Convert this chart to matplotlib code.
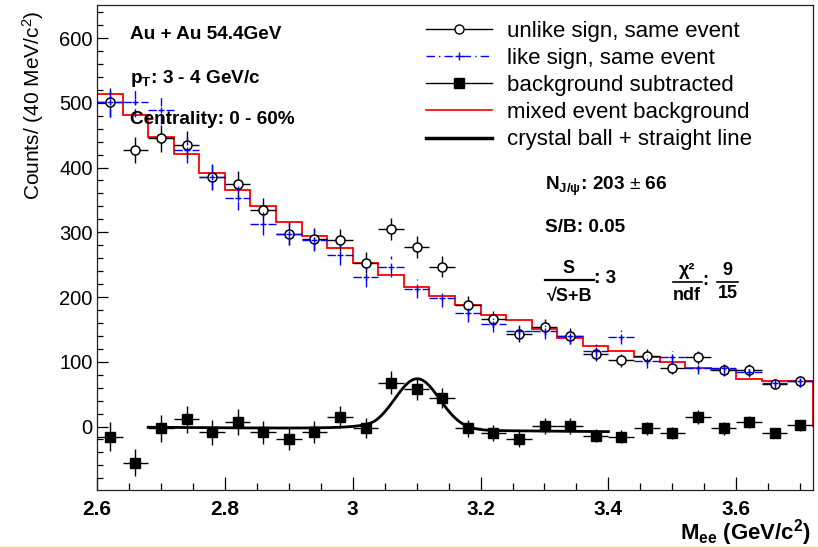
import numpy as np
import matplotlib
matplotlib.use("Agg")
import matplotlib.pyplot as plt
from matplotlib.lines import Line2D

plt.rcParams['font.family'] = ['Liberation Sans', 'DejaVu Sans']
plt.rcParams['mathtext.fontset'] = 'custom'
plt.rcParams['mathtext.rm'] = 'Liberation Sans'
plt.rcParams['mathtext.bf'] = 'Liberation Sans:bold'
plt.rcParams['mathtext.it'] = 'Liberation Sans:italic'
plt.rcParams['mathtext.sf'] = 'Liberation Sans'

# ---- data: dielectron invariant mass, 40 MeV/c^2 bins ----
mass = np.array([2.62, 2.66, 2.70, 2.74, 2.78, 2.82, 2.86, 2.90, 2.94, 2.98,
                 3.02, 3.06, 3.10, 3.14, 3.18, 3.22, 3.26, 3.30, 3.34, 3.38,
                 3.42, 3.46, 3.50, 3.54, 3.58, 3.62, 3.66, 3.70])
unlike = np.array([501, 427, 445, 435, 385, 375, 335, 298, 290, 288,
                   253, 305, 277, 247, 188, 166, 143, 154, 140, 112,
                   102, 109, 90, 107, 87, 87, 66, 70])
like = np.array([501, 501, 489, 427, 386, 353, 313, 298, 288, 265,
                 231, 247, 213, 199, 175, 158, 147, 147, 140, 116,
                 139, 101, 107, 90, 90, 85, 67, 70])
mixed = np.array([514, 481, 447, 421, 391, 365, 340, 316, 295, 275,
                  253, 234, 216, 202, 188, 173, 164, 150, 137, 125,
                  116, 108, 100, 90, 87, 74, 70, 70])
subtracted = np.array([-16, -56, -3, 11, -9, 7, -9, -19, -9, 15,
                       -2, 68, 58, 44, -3, -10, -19, 1, 1, -14,
                       -16, -3, -10, 15, -3, 7, -10, 2])

bin_half = 0.02
edges = np.append(mass - bin_half, mass[-1] + bin_half)

# fit: crystal ball + straight line
cb_norm, cb_mean, cb_sigma, cb_alpha, cb_n = 79.0, 3.101, 0.035, 1.8, 1.5
line_p0, line_p1, line_ref = -2.5, -9.0, 2.8
fit_lo, fit_hi = 2.68, 3.40


def crystal_ball(x):
    t = (x - cb_mean) / cb_sigma
    a = (cb_n / cb_alpha) ** cb_n * np.exp(-cb_alpha ** 2 / 2)
    b = cb_n / cb_alpha - cb_alpha
    core = np.exp(-t ** 2 / 2)
    tail = a * np.abs(b - t) ** (-cb_n)
    return cb_norm * np.where(t > -cb_alpha, core, tail)


def fit_func(x):
    return crystal_ball(x) + line_p0 + line_p1 * (x - line_ref)


W, H = 818, 548
fig = plt.figure(figsize=(W / 100, H / 100), dpi=100)


def fx(px):
    return px / W


def fy(py):
    return 1 - py / H


ax = fig.add_axes([fx(97), fy(490), (813 - 97) / W, (490 - 5) / H])

# mixed-event background histogram
ax.stairs(mixed, edges, color='red', lw=1.3, zorder=2)

# unlike sign
ax.errorbar(mass, unlike, yerr=np.sqrt(unlike), xerr=bin_half, fmt='o',
            ms=6.5, mfc='white', mec='black', mew=1.1, ecolor='black',
            elinewidth=1.0, capsize=0, zorder=3)

# like sign, dash-dot blue
like_eb = ax.errorbar(mass, like, yerr=np.sqrt(like), xerr=bin_half, fmt='+',
                      ms=5, color='blue', mew=1.0, elinewidth=1.0, capsize=0,
                      zorder=4)
for coll in like_eb[2]:
    coll.set_linestyle((0, (6, 3, 1, 3)))

# background subtracted
ax.errorbar(mass, subtracted, yerr=np.sqrt(unlike), xerr=bin_half, fmt='s',
            ms=7, color='black', ecolor='black', elinewidth=1.0, capsize=0,
            zorder=3)

# fit curve
xf = np.linspace(fit_lo, fit_hi, 400)
ax.plot(xf, fit_func(xf), color='black', lw=2.0, zorder=5)

ax.set_xlim(2.6, 3.72)
ax.set_ylim(-98, 651)
ax.set_xticks([2.6, 2.8, 3.0, 3.2, 3.4, 3.6])
ax.set_xticklabels(['2.6', '2.8', '3', '3.2', '3.4', '3.6'])
ax.set_xticks(np.arange(2.65, 3.72, 0.05), minor=True)
ax.set_yticks([0, 100, 200, 300, 400, 500, 600])
ax.set_yticks(np.arange(-80, 651, 20), minor=True)
ax.tick_params(axis='both', which='both', direction='in', top=False, right=False)
ax.tick_params(axis='x', which='major', length=9.5, width=0.9, pad=7.5, labelsize=15)
ax.tick_params(axis='x', which='minor', length=5, width=0.9)
ax.tick_params(axis='y', which='major', length=8, width=0.9, pad=3, labelsize=14.5)
ax.tick_params(axis='y', which='minor', length=4, width=0.9)
for lab in ax.get_xticklabels():
    lab.set_fontweight('bold')
for sp in ax.spines.values():
    sp.set_linewidth(0.9)
    sp.set_color('#222222')

ax.set_xlabel(r'$\mathbf{M_{ee}}$ (GeV/c$^{\mathbf{2}}$)', fontsize=16,
              fontweight='bold', loc='right')
ax.xaxis.set_label_coords((811.5 - 97) / 716, (490 - 540) / 485)
ax.xaxis.label.set_verticalalignment('baseline')

ax.set_ylabel(r'Counts/ (40 MeV/c$^{2}$)', fontsize=15, loc='top')
ax.yaxis.set_label_coords((46 - 97) / 716, (490 - 11) / 485)

# legend
handles = [
    Line2D([], [], color='black', lw=1.0, marker='o', ms=6.5, mfc='white', mec='black'),
    Line2D([], [], color='blue', lw=1.0, ls=(0, (6, 3, 1, 3)), marker='+', ms=6),
    Line2D([], [], color='black', lw=1.0, marker='s', ms=7),
    Line2D([], [], color='red', lw=1.2),
    Line2D([], [], color='black', lw=2.5),
]
labels = ['unlike sign, same event', 'like sign, same event',
          'background subtracted', 'mixed event background',
          'crystal ball + straight line']
fig.legend(handles, labels, loc='upper left', bbox_to_anchor=(fx(425.7), fy(20.5)),
           frameon=False, fontsize=16, handlelength=3.0, handletextpad=0.67,
           labelspacing=0.28, borderpad=0, borderaxespad=0)

# annotations
bold = dict(fontweight='bold')
fig.text(fx(129.5), fy(39.3), 'Au + Au 54.4GeV', fontsize=13.7, va='baseline', **bold)
fig.text(fx(129.5), fy(82.7), r'$\mathbf{p}_{\mathbf{T}}$: 3 - 4 GeV/c', fontsize=13.7,
         va='baseline', **bold)
fig.text(fx(129.5), fy(124.3), 'Centrality: 0 - 60%', fontsize=13.7, va='baseline', **bold)

fig.text(fx(545), fy(190), r'$\mathbf{N}_{\mathbf{J/\psi}}$: 203 $\pm$ 66', fontsize=13.7,
         va='baseline', **bold)
fig.text(fx(545), fy(231.7), 'S/B: 0.05', fontsize=13.7, va='baseline', **bold)

# S / sqrt(S+B)
fig.text(fx(568.5), fy(273.3), 'S', fontsize=13, ha='center', va='baseline', **bold)
fig.text(fx(569.5), fy(300.5), '\u221aS+B', fontsize=13, ha='center', va='baseline', **bold)
fig.add_artist(Line2D([fx(545), fx(593.5)], [fy(279.5), fy(279.5)], color='black', lw=1.6))
fig.text(fx(594), fy(283.3), ': 3', fontsize=13.7, va='baseline', **bold)

# chi2 / ndf
fig.text(fx(687), fy(275), '\u03c7\u00b2', fontsize=13, ha='center', va='baseline', **bold)
fig.text(fx(687), fy(300), 'ndf', fontsize=13, ha='center', va='baseline', **bold)
fig.add_artist(Line2D([fx(673.3), fx(701.7)], [fy(281.7), fy(281.7)], color='black', lw=1.2))
fig.text(fx(702), fy(285), ':', fontsize=13, va='baseline', **bold)
fig.text(fx(727.5), fy(275), '9', fontsize=13, ha='center', va='baseline', **bold)
fig.text(fx(727.5), fy(298.5), '15', fontsize=13, ha='center', va='baseline', **bold)
fig.add_artist(Line2D([fx(716.7), fx(738.3)], [fy(281.7), fy(281.7)], color='black', lw=1.2))

# thin border line along the bottom edge
fig.add_artist(Line2D([0, 1], [fy(546.5), fy(546.5)], color='#f3d27a', lw=1.0))

fig.savefig('out.png', dpi=100)
